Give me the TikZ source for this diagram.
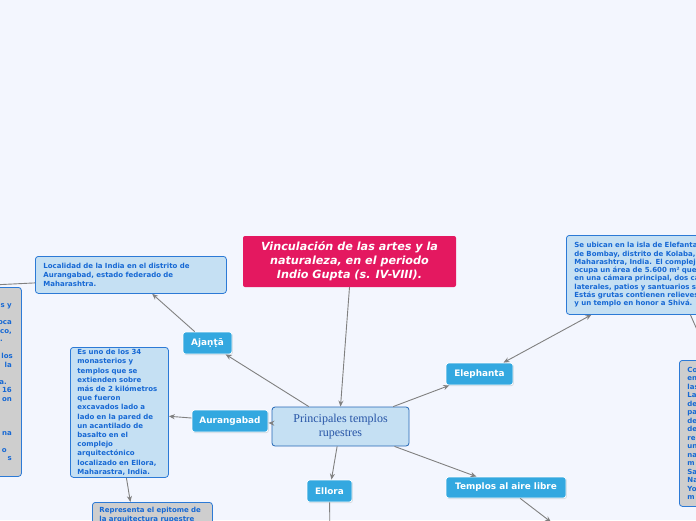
\documentclass[tikz,border=0pt]{standalone}
\usepackage{fontspec}
\newfontfamily\verd{DejaVu Sans}
\newfontfamily\tms{Liberation Serif}
\usetikzlibrary{arrows.meta,shadows}
\definecolor{bgpaper}{RGB}{243,246,254}
\definecolor{titlered}{RGB}{228,24,96}
\definecolor{topicfill}{RGB}{51,168,224}
\definecolor{leaffill}{RGB}{197,224,243}
\definecolor{leafline}{RGB}{44,122,214}
\definecolor{leaftext}{RGB}{22,104,212}
\definecolor{grayfill}{RGB}{206,206,206}
\definecolor{linkgray}{RGB}{128,128,128}
\definecolor{maintext}{RGB}{38,84,166}

\begin{document}
\begin{tikzpicture}[x=1pt,y=-1pt,
  topic/.style={fill=topicfill,draw=white,line width=0.8pt,rounded corners=2.5pt,text=white,
    font=\verd\bfseries\fontsize{8.9}{10}\selectfont,minimum height=22,inner xsep=4,
    drop shadow={opacity=0.25,shadow xshift=0.8pt,shadow yshift=-1pt}},
  leaf/.style={fill=leaffill,draw=leafline,line width=0.8pt,rounded corners=3pt,text=leaftext,
    font=\verd\bfseries\fontsize{7}{9}\selectfont,align=left,anchor=north west,inner xsep=8,inner ysep=0},
  grayleaf/.style={leaf,fill=grayfill},
  link/.style={draw=linkgray,line width=0.9pt,-{Stealth[length=6pt,width=5pt]}}]
\fill[bgpaper] (0,0) rectangle (696,520);
\useasboundingbox (0,0) rectangle (696,520);
% central topic and title
\node[fill=titlered,rounded corners=2pt,text=white,align=center,minimum width=213,minimum height=51,
  font=\verd\bfseries\itshape\fontsize{11.2}{14}\selectfont] (titulo) at (349.5,261.5)
  {Vinculación de las artes y la\\naturaleza, en el periodo\\Indio Gupta (s. IV-VIII).};
\node[fill=leaffill,draw=leafline!85!black,line width=0.8pt,rounded corners=3pt,text=maintext,align=center,
  minimum width=137,minimum height=39,font=\tms\fontsize{12}{14}\selectfont] (templos) at (340.5,426.5)
  {Principales templos\\rupestres};
% main topics
\node[topic,minimum width=49] (ajanta) at (207.5,343) {Ajaṇṭā};
\node[topic,minimum width=76] (aurangabad) at (230,421) {Aurangabad};
\node[topic,minimum width=67] (elephanta) at (479.5,374) {Elephanta};
\node[topic,minimum width=45] (ellora) at (329.5,491) {Ellora};
\node[topic,minimum width=120,minimum height=21] (airelibre) at (506,487.5) {Templos al aire libre};
% notes
\node[leaf,text width=175,minimum height=37] (localidad) at (35,256)
  {Localidad de la India en el distrito de\\Aurangabad, estado federado de\\Maharashtra.};
\node[leaf,text width=84,inner xsep=7,minimum height=130,font=\verd\bfseries\fontsize{7}{9.2}\selectfont] (esuno) at (70,347)
  {Es uno de los 34\\monasterios y\\templos que se\\extienden sobre\\más de 2 kilómetros\\que fueron\\excavados lado a\\lado en la pared de\\un acantilado de\\basalto en el\\complejo\\arquitectónico\\localizado en Ellora,\\Maharastra, India.};
\node[leaf,text width=230,minimum height=79,font=\verd\bfseries\fontsize{7}{8.3}\selectfont] (ubican) at (566,235)
  {Se ubican en la isla de Elefanta,\\de Bombay, distrito de Kolaba,\\Maharashtra, India. El complejo\\ocupa un área de 5.600 m² que\\en una cámara principal, dos capillas\\laterales, patios y santuarios secundarios.\\Estás grutas contienen relieves\\y un templo en honor a Shivá.};
\node[grayleaf,text width=120,minimum height=146,font=\verd\bfseries\fontsize{7}{8.5}\selectfont] (derecha) at (679,360)
  {Co\\en\\las\\La\\de\\pa\\de\\de\\re\\un\\na\\m\\Sa\\Na\\Yo\\m};
\node[grayleaf,text width=106,inner xsep=7,inner ysep=5] (epitome) at (92,502)
  {Representa el epitome de\\la arquitectura rupestre};
\node[grayleaf,minimum width=141,minimum height=189] (izquierda) at (-120,287) {};
\foreach \yb/\xe/\frag in {307.5/12/s y,324.5/12/oca,333/12/{co,},341.5/3/.,358.5/13/los,367/12/la,
    384/7/a.,392.5/12/16,401/12/on,435/12/na,452/7/o,460.5/12/s}
  \node[anchor=base east,inner sep=0,text=leaftext,font=\verd\bfseries\fontsize{7}{8.5}\selectfont] at (\xe,\yb) {\frag};
\coordinate (ellorabajo) at (330,545);
\coordinate (airebajo) at (551,522);
% connectors
\draw[link] (titulo.south) -- (templos.north);
\draw[link] (templos) -- (ajanta);
\draw[link] (ajanta) -- (localidad);
\draw[link] ([yshift=-8]localidad.west) -- (izquierda.north);
\draw[link] (templos) -- (aurangabad);
\draw[link] (aurangabad) -- (esuno);
\draw[link] ([xshift=7]esuno.south) -- ([xshift=-22]epitome.north);
\draw[link] (templos) -- (ellora);
\draw[link] (ellora) -- (ellorabajo);
\draw[link] (templos) -- (airelibre);
\draw[link] (airelibre) -- (airebajo);
\draw[link] (templos) -- (elephanta);
\draw[link,{Stealth[length=6pt,width=5pt]}-{Stealth[length=6pt,width=5pt]}] ([xshift=24]elephanta.north) -- ([xshift=-98]ubican.south);
\draw[link] ([xshift=1]ubican.south) -- ([xshift=-37]derecha.north);
\end{tikzpicture}
\end{document}
